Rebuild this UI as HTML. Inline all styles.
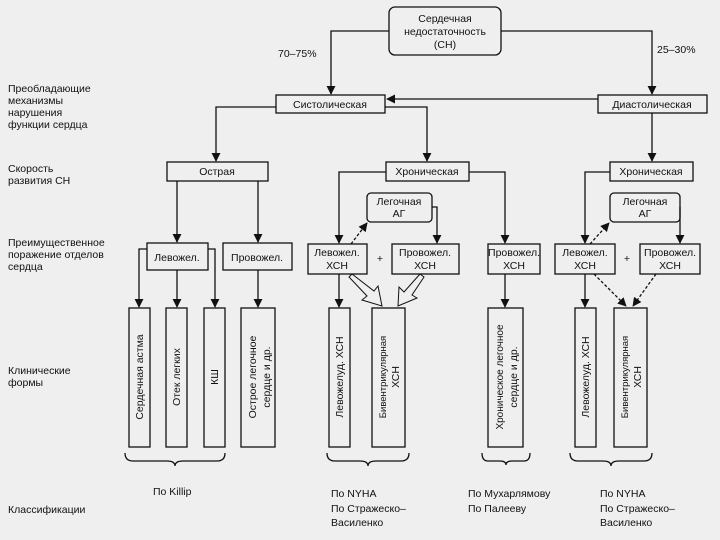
<!DOCTYPE html>
<html><head><meta charset="utf-8"><style>
html,body{margin:0;padding:0;background:#efefef;}
svg{display:block;}
text{font-family:"Liberation Sans",sans-serif;font-size:10.5px;fill:#111;}
.l{font-size:10.5px;}
</style></head><body>
<svg width="720" height="540" viewBox="0 0 720 540" xmlns="http://www.w3.org/2000/svg">
<defs>
<marker id="a" viewBox="0 0 10 10" refX="9" refY="5" markerWidth="9" markerHeight="9" markerUnits="userSpaceOnUse" orient="auto"><path d="M0,0 L10,5 L0,10 z" fill="#111"/></marker>
</defs>
<rect width="720" height="540" fill="#efefef"/>
<g stroke="#111" stroke-width="1.3" fill="none">
<!-- top box -->
<rect x="389" y="7" width="112" height="48" rx="6" fill="#efefef"/>
<polyline points="389,31 331,31 331,94" marker-end="url(#a)"/>
<polyline points="501,31 652,31 652,94" marker-end="url(#a)"/>
<rect x="276" y="95" width="109" height="18" fill="#efefef"/>
<rect x="598" y="95" width="109" height="18" fill="#efefef"/>
<line x1="598" y1="99" x2="387" y2="99" marker-end="url(#a)"/>
<polyline points="385,107 427,107 427,161" marker-end="url(#a)"/>
<polyline points="276,107 216,107 216,161" marker-end="url(#a)"/>
<line x1="652" y1="113" x2="652" y2="161" marker-end="url(#a)"/>
<rect x="167" y="162" width="101" height="19" fill="#efefef"/>
<rect x="386" y="162" width="83" height="19" fill="#efefef"/>
<rect x="610" y="162" width="83" height="19" fill="#efefef"/>
<!-- acute -->
<line x1="177" y1="181" x2="177" y2="242" marker-end="url(#a)"/>
<line x1="258" y1="181" x2="258" y2="242" marker-end="url(#a)"/>
<rect x="147" y="243" width="61" height="27" fill="#efefef"/>
<rect x="223" y="243" width="69" height="27" fill="#efefef"/>
<polyline points="147,249 139,249 139,307" marker-end="url(#a)"/>
<line x1="177" y1="270" x2="177" y2="307" marker-end="url(#a)"/>
<polyline points="208,249 215,249 215,307" marker-end="url(#a)"/>
<line x1="258" y1="270" x2="258" y2="307" marker-end="url(#a)"/>
<rect x="129" y="308" width="21" height="139"/>
<rect x="166" y="308" width="21" height="139"/>
<rect x="204" y="308" width="21" height="139"/>
<rect x="241" y="308" width="34" height="139"/>
<!-- chronic middle -->
<polyline points="386,172 339,172 339,243" marker-end="url(#a)"/>
<polyline points="469,172 505,172 505,243" marker-end="url(#a)"/>
<rect x="367" y="193" width="65" height="29" rx="4" fill="#efefef"/>
<line x1="351" y1="244" x2="367" y2="223" stroke-dasharray="3,2" marker-end="url(#a)"/>
<polyline points="432,207 437,207 437,243" marker-end="url(#a)"/>
<rect x="308" y="244" width="59" height="30" fill="#efefef"/>
<rect x="392" y="244" width="67" height="30" fill="#efefef"/>
<rect x="488" y="244" width="52" height="30" fill="#efefef"/>
<line x1="339" y1="274" x2="339" y2="307" marker-end="url(#a)"/>
<line x1="505" y1="274" x2="505" y2="307" marker-end="url(#a)"/>
<polygon points="352,274 374,291 378,286 382,306 362,300 367,296 349,277" stroke-width="1"/>
<polygon points="420,274 404,292 399,287 398,306 417,298 412,295 424,277" stroke-width="1"/>
<rect x="329" y="308" width="21" height="139"/>
<rect x="372" y="308" width="33" height="139"/>
<rect x="488" y="308" width="35" height="139"/>
<!-- chronic right -->
<polyline points="610,172 585,172 585,243" marker-end="url(#a)"/>
<rect x="610" y="193" width="70" height="29" rx="4" fill="#efefef"/>
<line x1="590" y1="244" x2="609" y2="223" stroke-dasharray="3,2" marker-end="url(#a)"/>
<polyline points="680,207 680,243" marker-end="url(#a)"/>
<rect x="555" y="244" width="60" height="30" fill="#efefef"/>
<rect x="640" y="244" width="60" height="30" fill="#efefef"/>
<line x1="585" y1="274" x2="585" y2="307" marker-end="url(#a)"/>
<line x1="594" y1="274" x2="626" y2="306" stroke-dasharray="3,2" marker-end="url(#a)"/>
<line x1="656" y1="274" x2="633" y2="306" stroke-dasharray="3,2" marker-end="url(#a)"/>
<rect x="575" y="308" width="21" height="139"/>
<rect x="614" y="308" width="33" height="139"/>
<!-- braces -->
<path d="M125,453 q0,8 8,8 h34 q8,0 8,5 q0,-5 8,-5 h34 q8,0 8,-8"/>
<path d="M327,453 q0,8 8,8 h25 q8,0 8,5 q0,-5 8,-5 h25 q8,0 8,-8"/>
<path d="M482,453 q0,8 6,8 h12 q6,0 6,4 q0,-4 6,-4 h12 q6,0 6,-8"/>
<path d="M570,453 q0,8 8,8 h25 q8,0 8,5 q0,-5 8,-5 h25 q8,0 8,-8"/>
</g>
<g>
<text x="445" y="22" text-anchor="middle">Сердечная</text>
<text x="445" y="35" text-anchor="middle">недостаточность</text>
<text x="445" y="48" text-anchor="middle">(СН)</text>
<text x="278" y="57">70–75%</text>
<text x="657" y="53">25–30%</text>
<text x="330" y="108" text-anchor="middle">Систолическая</text>
<text x="652" y="108" text-anchor="middle">Диастолическая</text>
<text x="217" y="175" text-anchor="middle">Острая</text>
<text x="427" y="175" text-anchor="middle">Хроническая</text>
<text x="651" y="175" text-anchor="middle">Хроническая</text>
<text x="399" y="205" text-anchor="middle">Легочная</text>
<text x="399" y="217" text-anchor="middle">АГ</text>
<text x="645" y="205" text-anchor="middle">Легочная</text>
<text x="645" y="217" text-anchor="middle">АГ</text>
<text x="177" y="261" text-anchor="middle">Левожел.</text>
<text x="257" y="261" text-anchor="middle">Провожел.</text>
<text x="337" y="256" text-anchor="middle">Левожел.</text>
<text x="337" y="269" text-anchor="middle">ХСН</text>
<text x="380" y="262" text-anchor="middle">+</text>
<text x="425" y="256" text-anchor="middle">Провожел.</text>
<text x="425" y="269" text-anchor="middle">ХСН</text>
<text x="514" y="256" text-anchor="middle">Провожел.</text>
<text x="514" y="269" text-anchor="middle">ХСН</text>
<text x="585" y="256" text-anchor="middle">Левожел.</text>
<text x="585" y="269" text-anchor="middle">ХСН</text>
<text x="627" y="262" text-anchor="middle">+</text>
<text x="670" y="256" text-anchor="middle">Провожел.</text>
<text x="670" y="269" text-anchor="middle">ХСН</text>
<text transform="translate(143,377) rotate(-90)" text-anchor="middle">Сердечная астма</text>
<text transform="translate(180,377) rotate(-90)" text-anchor="middle">Отек легких</text>
<text transform="translate(218,377) rotate(-90)" text-anchor="middle">КШ</text>
<text transform="translate(256,377) rotate(-90)" text-anchor="middle">Острое легочное</text>
<text transform="translate(270,377) rotate(-90)" text-anchor="middle">сердце и др.</text>
<text transform="translate(343,377) rotate(-90)" text-anchor="middle">Левожелуд. ХСН</text>
<text transform="translate(386,377) rotate(-90)" text-anchor="middle" style="font-size:9.5px">Бивентрикулярная</text>
<text transform="translate(399,377) rotate(-90)" text-anchor="middle">ХСН</text>
<text transform="translate(503,377) rotate(-90)" text-anchor="middle" style="font-size:10px">Хроническое легочное</text>
<text transform="translate(517,377) rotate(-90)" text-anchor="middle">сердце и др.</text>
<text transform="translate(589,377) rotate(-90)" text-anchor="middle">Левожелуд. ХСН</text>
<text transform="translate(628,377) rotate(-90)" text-anchor="middle" style="font-size:9.5px">Бивентрикулярная</text>
<text transform="translate(641,377) rotate(-90)" text-anchor="middle">ХСН</text>
<text x="8" y="92">Преобладающие</text>
<text x="8" y="104">механизмы</text>
<text x="8" y="116">нарушения</text>
<text x="8" y="128">функции сердца</text>
<text x="8" y="172">Скорость</text>
<text x="8" y="184">развития СН</text>
<text x="8" y="246">Преимущественное</text>
<text x="8" y="258">поражение отделов</text>
<text x="8" y="270">сердца</text>
<text x="8" y="374">Клинические</text>
<text x="8" y="386">формы</text>
<text x="8" y="513">Классификации</text>
<text x="153" y="495">По Killip</text>
<text x="331" y="497">По NYHA</text>
<text x="331" y="512">По Стражеско–</text>
<text x="331" y="526">Василенко</text>
<text x="468" y="497">По Мухарлямову</text>
<text x="468" y="512">По Палееву</text>
<text x="600" y="497">По NYHA</text>
<text x="600" y="512">По Стражеско–</text>
<text x="600" y="526">Василенко</text>
</g>
</svg>
</body></html>
